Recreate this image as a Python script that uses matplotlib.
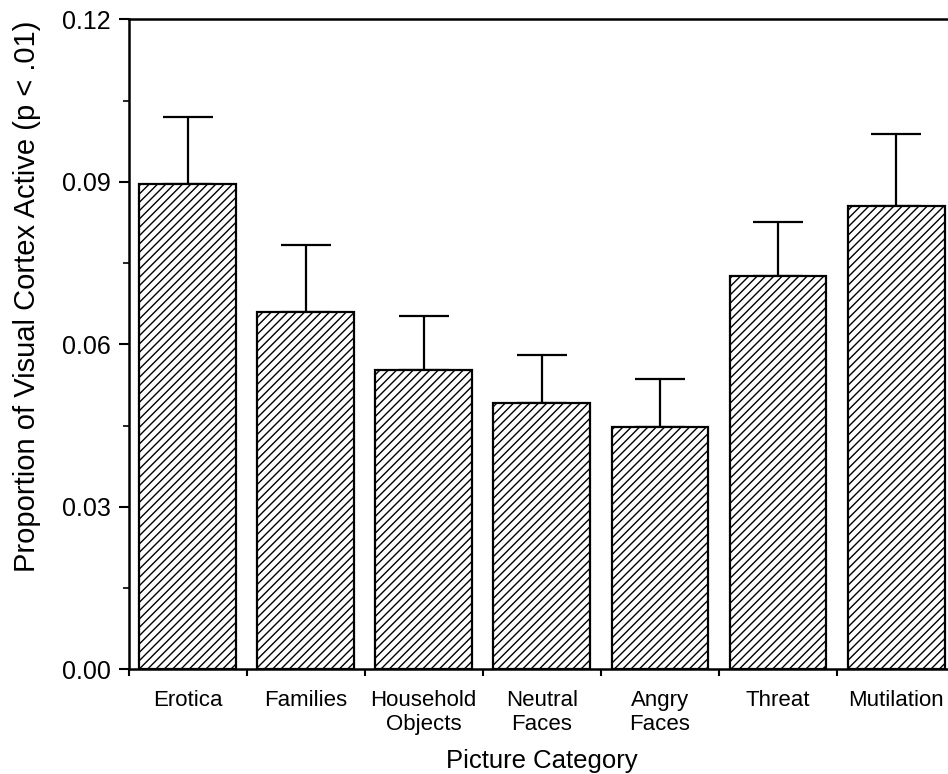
import numpy as np
import matplotlib.pyplot as plt
from matplotlib.ticker import MultipleLocator

categories = ['Erotica', 'Families', 'Household\nObjects', 'Neutral\nFaces',
              'Angry\nFaces', 'Threat', 'Mutilation']
means = [0.0896, 0.0660, 0.0553, 0.0491, 0.0447, 0.0727, 0.0856]
errors = [0.0123, 0.0123, 0.0099, 0.0089, 0.0089, 0.0098, 0.0132]

plt.rcParams['font.family'] = ['Liberation Sans', 'DejaVu Sans']
plt.rcParams['hatch.linewidth'] = 1.0

fig = plt.figure(figsize=(9.48, 7.74), dpi=100)
# axes runs a bit past the right edge, as in the original scan
ax = fig.add_axes([128.5 / 948, 1 - 669.3 / 774, 826.7 / 948, 650 / 774])

x = np.arange(len(categories))
ax.bar(x, means, width=0.82, color='white', edgecolor='black',
       linewidth=1.6, hatch='////', zorder=2)
ax.errorbar(x, means, yerr=[np.zeros(len(errors)), errors], fmt='none',
            ecolor='black', elinewidth=1.6, capsize=18, capthick=1.6, zorder=1)

ax.set_xlim(-0.5, 6.5)
ax.set_ylim(0, 0.12)

ax.yaxis.set_minor_locator(MultipleLocator(0.015))
ax.set_yticks([0, 0.03, 0.06, 0.09, 0.12])
ax.set_yticklabels(['0.00', '0.03', '0.06', '0.09', '0.12'])
ax.tick_params(axis='y', which='major', length=7, width=1.5, labelsize=18, pad=6)
ax.tick_params(axis='y', which='minor', length=4, width=1.2)

# labels centred under bars, ticks on the bar boundaries
ax.set_xticks(x)
ax.set_xticklabels(categories, fontsize=16, linespacing=1.2)
ax.set_xticks(np.arange(-0.5, 6.0, 1.0), minor=True)
ax.tick_params(axis='x', which='major', length=0, pad=15)
ax.tick_params(axis='x', which='minor', length=5, width=1.5)

for s in ['left', 'bottom', 'top']:
    ax.spines[s].set_linewidth(1.8)
ax.spines['right'].set_visible(False)

ax.set_xlabel('Picture Category', fontsize=18.5, labelpad=10)
ax.set_ylabel('Proportion of Visual Cortex Active (p < .01)', fontsize=21)
ax.yaxis.set_label_coords(-0.106, 0.574)

fig.savefig('out.png', dpi=100)
